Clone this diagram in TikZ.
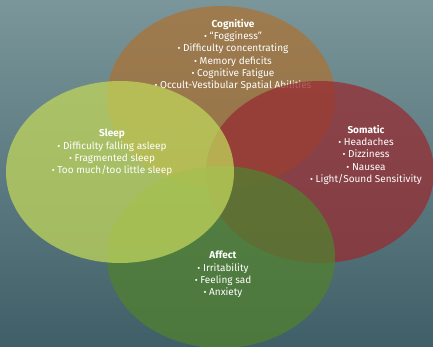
\documentclass[tikz,border=0pt]{standalone}
\usepackage{fontspec}
\setmainfont{Fira Sans}
\definecolor{bgtop}{RGB}{122,150,154}
\definecolor{bgbot}{RGB}{63,95,104}
\definecolor{cogc}{RGB}{170,115,55}
\definecolor{slpc}{RGB}{192,213,91}
\definecolor{somc}{RGB}{150,45,50}
\definecolor{affc}{RGB}{81,129,47}
\tikzset{
  blob/.style={ellipse, minimum width=228pt, minimum height=182pt, fill opacity=0.75, inner sep=0pt},
  lbl/.style={text=white, align=center, font=\fontsize{10}{12.3}\selectfont, inner sep=0pt},
}
\usetikzlibrary{shapes.geometric}
\newcommand{\bul}{{\small\textbullet}\ }
\begin{document}
\begin{tikzpicture}[x=1pt,y=-1pt]
\shade[top color=bgtop, bottom color=bgbot] (0,0) rectangle (433,347);
\useasboundingbox (0,0) rectangle (433,347);
% Cognitive
\node[blob, fill=cogc] (cog) at (221,97) {};
\node[lbl, anchor=north] (cogt) at (233,19) {\textbf{Cognitive}\\ \bul “Fogginess”\\ \bul Difficulty concentrating\\ \bul Memory deficits\\ \bul Cognitive Fatigue\\ \bul Occult-Vestibular Spatial Abilities};
% Somatic
\node[blob, fill=somc] (som) at (320,172) {};
\node[lbl, anchor=north] (somt) at (366,125) {\textbf{Somatic}\\ \bul Headaches\\ \bul Dizziness\\ \bul Nausea\\ \bul Light/Sound Sensitivity};
% Affect
\node[blob, fill=affc] (aff) at (221,257) {};
\node[lbl, anchor=north] (afft) at (223,251) {\textbf{Affect}\\ \bul Irritability\\ \bul Feeling sad\\ \bul Anxiety};
% Sleep
\node[blob, fill=slpc] (slp) at (120,172) {};
\node[lbl, anchor=north] (slpt) at (112,129) {\textbf{Sleep}\\ \bul Difficulty falling asleep\\ \bul Fragmented sleep\\ \bul Too much/too little sleep};
\end{tikzpicture}
\end{document}
